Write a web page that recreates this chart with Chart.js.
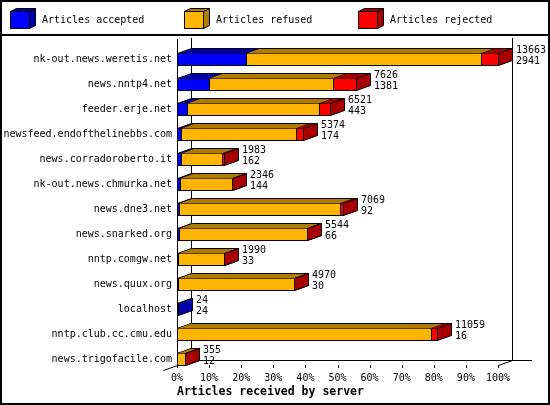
<!DOCTYPE html>
<html>
<head>
<meta charset="utf-8">
<script src="https://cdn.jsdelivr.net/npm/chart.js@4"></script>
<style>
  html, body { margin: 0; padding: 0; background: #fff; }
  canvas { display: block; }
</style>
</head>
<body>
<canvas id="chart" width="550" height="405"></canvas>
<script>
// servers, top to bottom
const servers = [
  "nk-out.news.weretis.net",
  "news.nntp4.net",
  "feeder.erje.net",
  "newsfeed.endofthelinebbs.com",
  "news.corradoroberto.it",
  "nk-out.news.chmurka.net",
  "news.dne3.net",
  "news.snarked.org",
  "nntp.comgw.net",
  "news.quux.org",
  "localhost",
  "nntp.club.cc.cmu.edu",
  "news.trigofacile.com",
];
// article counts (totals and accepted are printed, the rest)
const totals = [13663, 7626, 6521, 5374, 1983, 2346, 7069, 5544, 1990, 4970, 24, 11059, 355];
const accepted = [2941, 1381, 443, 174, 162, 144, 92, 66, 33, 30, 24, 16, 12];
const refused = [10018, 5245, 5608, 4900, 1761, 2192, 6847, 5468, 1949, 4930, 0, 10813, 340];
const rejected = [704, 1000, 470, 300, 60, 10, 130, 10, 8, 10, 0, 230, 3];
const maxTotal = 13663;

const FONT = '"DejaVu Sans Mono", "Liberation Mono", monospace';
const DX = 14, DY = 5, BAR = 12;
const faceColors = ["#0000ff", "#ffb400", "#ff0000"];
const darkColors = ["#0000a8", "#b07c00", "#a80000"];

function pct(arr) {
  return arr.map((v) => (v / maxTotal) * 100);
}

function line(ctx, x0, y0, x1, y1) {
  ctx.beginPath();
  ctx.moveTo(x0, y0);
  ctx.lineTo(x1, y1);
  ctx.stroke();
}

// one segment of a 3d bar: front, top and right side
function drawSegment(ctx, x0, x1, yT, yB, face, dark, first) {
  ctx.strokeStyle = "#000";
  ctx.lineWidth = 1;
  // front
  ctx.fillStyle = face;
  ctx.fillRect(x0, yT, x1 - x0 + 1, yB - yT);
  ctx.strokeRect(x0 + 0.5, yT + 0.5, x1 - x0, yB - yT);
  // top
  ctx.fillStyle = dark;
  ctx.beginPath();
  ctx.moveTo(x0 + 0.5, yT + 0.5);
  ctx.lineTo(x0 + DX + 0.5, yT - DY + 0.5);
  ctx.lineTo(x1 + DX + 0.5, yT - DY + 0.5);
  ctx.lineTo(x1 + 0.5, yT + 0.5);
  ctx.closePath();
  ctx.fill();
  line(ctx, x0 + DX + 0.5, yT - DY + 0.5, x1 + DX + 0.5, yT - DY + 0.5);
  if (first) line(ctx, x0 + 0.5, yT + 0.5, x0 + DX + 0.5, yT - DY + 0.5);
  // side
  ctx.beginPath();
  ctx.moveTo(x1 + 0.5, yT + 0.5);
  ctx.lineTo(x1 + DX + 0.5, yT - DY + 0.5);
  ctx.lineTo(x1 + DX + 0.5, yB - DY + 0.5);
  ctx.lineTo(x1 + 0.5, yB + 0.5);
  ctx.closePath();
  ctx.fill();
  ctx.stroke();
}

const threeD = {
  id: "threeD",
  beforeDatasetsDraw(chart) {
    const ctx = chart.ctx;
    const x = chart.scales.x;
    const y = chart.scales.y;
    const left = Math.round(x.getPixelForValue(0));
    const right = Math.round(x.getPixelForValue(100));
    const top = Math.round(chart.chartArea.top) - 8;
    const floor = Math.floor(y.getPixelForValue(servers.length - 1) - BAR / 2) + BAR;
    ctx.save();
    ctx.strokeStyle = "#000";
    ctx.lineWidth = 1;
    // back wall and floor
    line(ctx, left + DX + 0.5, top - 1, left + DX + 0.5, floor - DY + 0.5);
    line(ctx, right + DX + 0.5, top - 1, right + DX + 0.5, floor - DY + 0.5);
    line(ctx, left + DX, floor - DY + 0.5, right + DX + 20, floor - DY + 0.5);
    // front axis
    line(ctx, left + 0.5, top, left + 0.5, floor + 0.5);
    line(ctx, left + 0.5, floor + 0.5, left - DX + 0.5, floor + DY + 0.5);
    line(ctx, right + 0.5, floor + 0.5, right + DX + 0.5, floor - DY + 0.5);
    for (let v = 0; v <= 100; v += 10) {
      const px = Math.round(x.getPixelForValue(v)) + 0.5;
      line(ctx, px, floor, px, floor + 3);
    }
    ctx.restore();
  },
  afterDatasetsDraw(chart) {
    const ctx = chart.ctx;
    ctx.save();
    for (let i = 0; i < servers.length; i++) {
      let first = true;
      let endX = 0;
      let cy = 0;
      chart.data.datasets.forEach((ds, d) => {
        const el = chart.getDatasetMeta(d).data[i];
        cy = el.y;
        endX = el.x;
        if (!(ds.data[i] > 0)) return;
        const x0 = Math.round(el.base);
        const x1 = Math.round(el.x);
        const yT = Math.floor(el.y - BAR / 2);
        drawSegment(ctx, x0, x1, yT, yT + BAR, faceColors[d], darkColors[d], first);
        first = false;
      });
      // counts next to the bar
      ctx.fillStyle = "#000";
      ctx.font = "10px " + FONT;
      ctx.textAlign = "left";
      ctx.textBaseline = "middle";
      const tx = Math.round(endX) + DX + 4;
      ctx.fillText(String(totals[i]), tx, Math.floor(cy) - 9);
      ctx.fillText(String(accepted[i]), tx, Math.floor(cy) + 2);
    }
    ctx.restore();
  },
  afterDraw(chart) {
    const ctx = chart.ctx;
    const w = chart.width, h = chart.height;
    ctx.save();
    ctx.fillStyle = "#000";
    // frame and legend separator
    ctx.fillRect(0, 0, w, 2);
    ctx.fillRect(0, h - 2, w, 2);
    ctx.fillRect(0, 0, 2, h);
    ctx.fillRect(w - 2, 0, 2, h);
    ctx.fillRect(0, 34, w, 2);
    // legend
    chart.data.datasets.forEach((ds, d) => {
      const bx = 10 + d * 174;
      const by = 11;
      ctx.strokeStyle = "#000";
      ctx.lineWidth = 1;
      ctx.fillStyle = faceColors[d];
      ctx.fillRect(bx, by, 19, 17);
      ctx.strokeRect(bx + 0.5, by + 0.5, 19, 17);
      ctx.fillStyle = darkColors[d];
      ctx.beginPath();
      ctx.moveTo(bx + 0.5, by + 0.5);
      ctx.lineTo(bx + 6.5, by - 2.5);
      ctx.lineTo(bx + 25.5, by - 2.5);
      ctx.lineTo(bx + 25.5, by + 14.5);
      ctx.lineTo(bx + 19.5, by + 17.5);
      ctx.lineTo(bx + 19.5, by + 0.5);
      ctx.closePath();
      ctx.fill();
      ctx.stroke();
      line(ctx, bx + 19.5, by + 0.5, bx + 25.5, by - 2.5);
      ctx.fillStyle = "#000";
      ctx.font = "10px " + FONT;
      ctx.textAlign = "left";
      ctx.textBaseline = "middle";
      ctx.fillText(ds.label, bx + 32, 20);
    });
    ctx.restore();
  },
};

new Chart(document.getElementById("chart"), {
  type: "bar",
  data: {
    labels: servers,
    datasets: [
      { label: "Articles accepted", data: pct(accepted), backgroundColor: faceColors[0] },
      { label: "Articles refused", data: pct(refused), backgroundColor: faceColors[1] },
      { label: "Articles rejected", data: pct(rejected), backgroundColor: faceColors[2] },
    ],
  },
  options: {
    indexAxis: "y",
    responsive: false,
    animation: false,
    devicePixelRatio: 1,
    barThickness: BAR,
    borderWidth: 0,
    layout: { padding: { top: 47, right: 52, bottom: 0, left: 0 } },
    plugins: {
      legend: { display: false },
      tooltip: { enabled: false },
    },
    scales: {
      x: {
        stacked: true,
        min: 0,
        max: 100,
        grid: { display: false, drawTicks: false },
        border: { display: false },
        ticks: {
          stepSize: 10,
          autoSkip: false,
          maxRotation: 0,
          padding: 0,
          color: "#000",
          font: { family: FONT, size: 10 },
          callback: (v) => v + "%",
        },
        title: {
          display: true,
          align: "start",
          text: "Articles received by server",
          color: "#000",
          font: { family: FONT, size: 11.5, weight: "bold" },
          padding: { top: 0, bottom: 6 },
        },
        afterFit: (s) => {
          s.height = 33;
        },
      },
      y: {
        stacked: true,
        grid: { display: false, drawTicks: false },
        border: { display: false },
        ticks: {
          autoSkip: false,
          padding: 5,
          color: "#000",
          font: { family: FONT, size: 10 },
        },
        afterFit: (s) => {
          s.width = 177;
        },
      },
    },
  },
  plugins: [threeD],
});
</script>
</body>
</html>
